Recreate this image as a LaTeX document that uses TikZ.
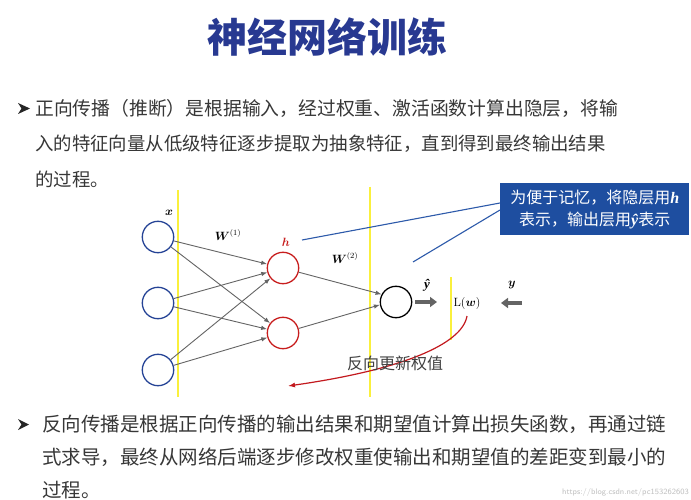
\documentclass[tikz,border=0pt]{standalone}
\usepackage{amsmath,bm}
\usepackage{fontspec}
\newfontfamily\cjk{Noto Sans CJK SC}
\newfontfamily\serifvar{Liberation Serif}
\usetikzlibrary{arrows.meta}
\definecolor{titleblue}{RGB}{40,57,145}
\definecolor{bodytext}{RGB}{55,55,55}
\definecolor{inblue}{RGB}{38,68,150}
\definecolor{hidred}{RGB}{200,30,30}
\definecolor{edgegray}{RGB}{100,100,100}
\definecolor{layeryellow}{RGB}{250,240,60}
\definecolor{notefill}{RGB}{30,78,160}
\definecolor{noteline}{RGB}{45,90,170}
\definecolor{backred}{RGB}{195,25,30}
\newcommand{\boldvar}[1]{{\serifvar\bfseries\itshape #1}}
\tikzset{
  neuron/.style={circle, minimum size=31.4pt, inner sep=0pt, line width=1.3pt},
  inneuron/.style={neuron, draw=inblue},
  hidneuron/.style={neuron, draw=hidred},
  outneuron/.style={neuron, draw=black},
  edge/.style={draw=edgegray, line width=0.9pt, -{Latex[length=6pt,width=4.5pt]}},
  layerline/.style={draw=layeryellow, line width=1.4pt},
  bigarrow/.style={draw=edgegray, line width=4pt, -{Triangle[length=7pt,width=10pt]}},
  notebox/.style={fill=notefill, text=white, inner sep=0pt, minimum width=189pt, minimum height=52pt, align=center},
  noteconn/.style={draw=noteline, line width=1.1pt},
  backarrow/.style={draw=backred, line width=1.2pt, -{Latex[length=7pt,width=5pt]}},
  mathlabel/.style={inner sep=0pt, font=\fontsize{12}{12}\selectfont},
  bodyline/.style={inner sep=0pt, anchor=west, text=bodytext},
  bulletmark/.style={fill=black!85},
}
\begin{document}
\begin{tikzpicture}[x=1pt,y=-1pt]
\useasboundingbox[fill=white] (0,0) rectangle (691,500);

% title
\node[inner sep=0pt, text=titleblue, font=\cjk\bfseries\fontsize{40}{40}\selectfont] (title) at (327,37) {神经网络训练};

% first bullet
\fill[bulletmark] (18,103) -- (30,108.5) -- (18,114) -- (21.5,108.5) -- cycle;
\node[bodyline, font=\cjk\fontsize{18.8}{18.8}\selectfont] (b1a) at (35,108) {正向传播（推断）是根据输入，经过权重、激活函数计算出隐层，将输};
\node[bodyline, font=\cjk\fontsize{18.4}{18.4}\selectfont] (b1b) at (35,144) {入的特征向量从低级特征逐步提取为抽象特征，直到得到最终输出结果};
\node[bodyline, font=\cjk\fontsize{18.4}{18.4}\selectfont] (b1c) at (35,179) {的过程。};

% yellow layer lines
\coordinate (ya) at (178,190); \coordinate (yb) at (178,397);
\coordinate (yc) at (370,187); \coordinate (yd) at (370,397);
\coordinate (ye) at (451,277); \coordinate (yf) at (451,340);
\draw[layerline] (ya) -- (yb);
\draw[layerline] (yc) -- (yd);
\draw[layerline] (ye) -- (yf);

% neurons
\node[inneuron] (x1) at (158,237) {};
\node[inneuron] (x2) at (158,303) {};
\node[inneuron] (x3) at (158,370) {};
\node[hidneuron] (h1) at (283,268) {};
\node[hidneuron] (h2) at (283,333) {};
\node[outneuron] (o) at (396,302) {};

% connections
\foreach \i in {1,2,3}{
  \draw[edge] (x\i) -- (h1);
  \draw[edge] (x\i) -- (h2);
}
\draw[edge] (h1) -- (o.152);
\draw[edge] (h2) -- (o.190);

% labels
\node[mathlabel] (xl) at (169,213) {$\boldsymbol{x}$};
\node[mathlabel, text=hidred] (hl) at (286,242) {$\boldsymbol{h}$};
\node[mathlabel] (w1) at (228,235) {$\boldsymbol{W}^{(1)}$};
\node[mathlabel] (w2) at (345,258) {$\boldsymbol{W}^{(2)}$};
\node[inner sep=0pt, font=\fontsize{13}{13}\selectfont] (yhat) at (427,285) {\boldvar{ŷ}};
\node[mathlabel] (loss) at (467,303) {$\mathrm{L}(\boldsymbol{w})$};
\node[mathlabel] (ylab) at (512,285) {$\boldsymbol{y}$};

% thick arrows
\coordinate (pa) at (415,302); \coordinate (pb) at (437,302);
\coordinate (qa) at (522,303); \coordinate (qb) at (501,303);
\draw[bigarrow] (pa) -- (pb);
\draw[bigarrow] (qa) -- (qb);

% note box
\node[notebox, anchor=north west, font=\cjk\fontsize{16}{22}\selectfont] (note) at (500,183)
  {为便于记忆，将隐层用\boldvar{h}\\表示，输出层用\boldvar{ŷ}表示};
\coordinate (la) at (302,240); \coordinate (na) at (500,203);
\coordinate (lb) at (413,262); \coordinate (nb) at (500,210);
\draw[noteconn] (la) -- (na);
\draw[noteconn] (lb) -- (nb);

% back propagation curve
\coordinate (rs) at (467,316); \coordinate (re) at (288,386);
\draw[backarrow] (rs) .. controls (462,345) and (400,370) .. (re);
\node[inner sep=0pt, anchor=west, text=black!75, font=\cjk\fontsize{16}{16}\selectfont] (backlab) at (347,363) {反向更新权值};

% second bullet
\fill[bulletmark] (18,419) -- (29,424.5) -- (18,430) -- (21.5,424.5) -- cycle;
\node[bodyline, font=\cjk\fontsize{19.5}{19.5}\selectfont] (b2a) at (42,424) {反向传播是根据正向传播的输出结果和期望值计算出损失函数，再通过链};
\node[bodyline, font=\cjk\fontsize{19.5}{19.5}\selectfont] (b2b) at (42,457) {式求导，最终从网络后端逐步修改权重使输出和期望值的差距变到最小的};
\node[bodyline, font=\cjk\fontsize{19.5}{19.5}\selectfont] (b2c) at (42,490) {过程。};

% watermark
\node[inner sep=0pt, anchor=east, text=black!25, font=\sffamily\fontsize{8}{8}\selectfont] (wm) at (689,492) {https://blog.csdn.net/pc153262603};
\end{tikzpicture}
\end{document}
